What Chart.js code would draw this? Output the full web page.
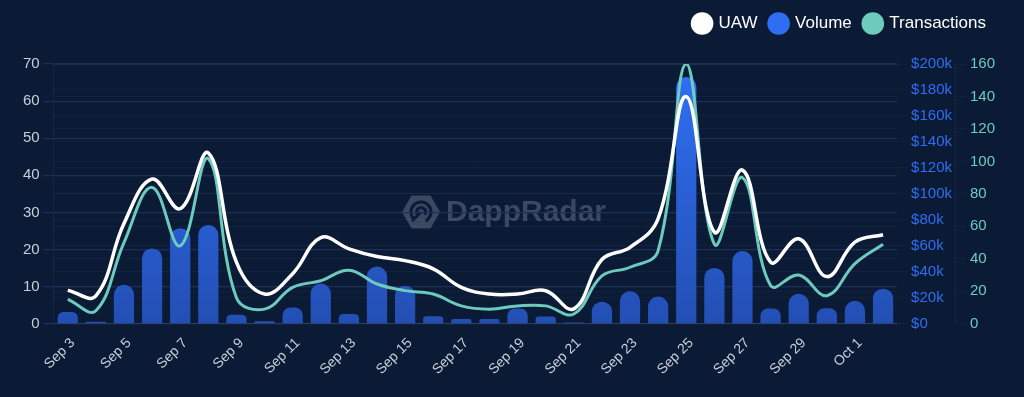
<!DOCTYPE html>
<html>
<head>
<meta charset="utf-8">
<script src="https://cdn.jsdelivr.net/npm/chart.js@4.4.1/dist/chart.umd.min.js"></script>
<style>
  html, body { margin: 0; padding: 0; background: #0b1a35; }
  #wrap { width: 1024px; height: 397px; position: relative; }
</style>
</head>
<body>
<div id="wrap"><canvas id="c" width="1024" height="397"></canvas></div>
<script>
const categories = ["Sep 3","Sep 4","Sep 5","Sep 6","Sep 7","Sep 8","Sep 9","Sep 10","Sep 11","Sep 12",
  "Sep 13","Sep 14","Sep 15","Sep 16","Sep 17","Sep 18","Sep 19","Sep 20","Sep 21","Sep 22",
  "Sep 23","Sep 24","Sep 25","Sep 26","Sep 27","Sep 28","Sep 29","Sep 30","Oct 1","Oct 2"];
const uaw = [9, 7.5, 27, 39, 31, 46, 16.6, 8, 13.5, 23.2,
  20.2, 18.1, 17, 14.8, 9.8, 8, 8, 8.9, 4, 17.3,
  20.6, 28.3, 61.2, 24.7, 41.4, 16.6, 22.9, 12.7, 22, 24];
const volume = [9000, 1500, 30000, 58000, 73600, 76000, 7000, 2000, 12600, 31000,
  7500, 44000, 29300, 5700, 3600, 3600, 11800, 5600, 1000, 17000,
  25000, 21000, 190000, 43000, 56000, 11800, 23000, 12000, 17700, 27000];
const transactions = [15, 8, 50, 84, 48, 101.7, 16, 9, 22.4, 26.5,
  33, 24.5, 20.4, 18.3, 11, 9, 11, 11, 6, 29.5,
  34.8, 45, 160, 49, 90, 23.5, 30, 17.3, 37, 49];

const BG = '#0b1a35';
const TXT = '#c9ced8';
const BLUE = '#2f6ef2';
const TEAL = '#6ccbbd';

const bgPlugin = {
  id: 'bg',
  beforeInit(chart) {
    const legend = chart.legend;
    if (legend) {
      const fit = legend.fit;
      legend.fit = function () { fit.call(this); this.height += 22; };
    }
  },
  beforeDraw(chart) {
    const ctx = chart.ctx;
    ctx.save();
    ctx.fillStyle = BG;
    ctx.fillRect(0, 0, chart.width, chart.height);
    // watermark
    const cx = 421, cy = 212, r = 19;
    ctx.fillStyle = '#3a4961';
    ctx.beginPath();
    for (let i = 0; i < 6; i++) {
      const a = Math.PI / 3 * i;
      const x = cx + r * Math.cos(a), y = cy + r * Math.sin(a);
      if (i === 0) ctx.moveTo(x, y); else ctx.lineTo(x, y);
    }
    ctx.closePath();
    ctx.fill();
    ctx.strokeStyle = BG;
    ctx.lineWidth = 3;
    ctx.beginPath(); ctx.arc(cx, cy, 10, Math.PI * 0.75, Math.PI * 2.35); ctx.stroke();
    ctx.beginPath(); ctx.arc(cx, cy, 4.5, Math.PI * 0.75, Math.PI * 2.2); ctx.stroke();
    ctx.beginPath(); ctx.moveTo(cx, cy); ctx.lineTo(cx - 9, cy + 9); ctx.stroke();
    ctx.fillStyle = '#3a4961';
    ctx.font = 'bold 30px "Liberation Sans", Arial, sans-serif';
    ctx.textBaseline = 'middle';
    ctx.fillText('DappRadar', 446, cy + 1);
    ctx.restore();
  }
};

function barGradient(ctx) {
  const chart = ctx.chart;
  const area = chart.chartArea;
  if (!area) return BLUE;
  const g = chart.ctx.createLinearGradient(0, area.top, 0, area.bottom);
  g.addColorStop(0, '#2f70f4');
  g.addColorStop(1, '#234fb4');
  return g;
}

const font = { family: '"Liberation Sans", Arial, sans-serif', size: 15 };

new Chart(document.getElementById('c'), {
  data: {
    labels: categories,
    datasets: [
      { type: 'line', label: 'UAW', data: uaw, yAxisID: 'y', borderColor: '#ffffff', backgroundColor: '#ffffff',
        borderWidth: 3.5, tension: 0.4, pointRadius: 0, order: 0 },
      { type: 'bar', label: 'Volume', data: volume, yAxisID: 'y1', backgroundColor: barGradient,
        borderRadius: { topLeft: 10, topRight: 10 }, borderSkipped: 'bottom',
        barPercentage: 0.72, categoryPercentage: 1.0, order: 2 },
      { type: 'line', label: 'Transactions', data: transactions, yAxisID: 'y2', borderColor: TEAL, backgroundColor: TEAL,
        borderWidth: 3, tension: 0.4, pointRadius: 0, order: 1 }
    ]
  },
  options: {
    responsive: false,
    animation: false,
    layout: { padding: { left: 19, right: 25, top: 2, bottom: 16 } },
    plugins: {
      legend: {
        position: 'top',
        align: 'end',
        labels: {
          color: '#ffffff',
          font: { family: '"Liberation Sans", Arial, sans-serif', size: 17 },
          usePointStyle: true,
          pointStyle: 'circle',
          boxWidth: 16,
          boxHeight: 16,
          padding: 13,
          generateLabels(chart) {
            const cols = ['#ffffff', BLUE, TEAL];
            return chart.data.datasets.map((d, i) => ({
              text: d.label, fillStyle: cols[i], strokeStyle: cols[i], lineWidth: 0,
              pointStyle: 'circle', datasetIndex: i, hidden: false, fontColor: '#ffffff'
            }));
          }
        }
      },
      tooltip: { enabled: false }
    },
    scales: {
      x: {
        grid: { display: false },
        border: { display: false },
        ticks: { color: TXT, font: { family: font.family, size: 14 }, maxRotation: 45, minRotation: 45,
          labelOffset: 5, autoSkip: false, callback(v, i) { return i % 2 === 0 ? categories[i] : null; } }
      },
      y: {
        position: 'left', min: 0, max: 70,
        grid: { color: '#1d3158', tickLength: 10, lineWidth: 1.2 },
        border: { display: true, color: '#16264a' },
        ticks: { color: TXT, font, stepSize: 10, padding: 4 }
      },
      y1: {
        position: 'right', min: 0, max: 200000,
        grid: { color: 'rgba(255,255,255,0.035)', tickLength: 10, drawOnChartArea: true },
        border: { display: false },
        ticks: { color: BLUE, font, stepSize: 20000, padding: 4,
          callback(v) { return v === 0 ? '$0' : '$' + (v / 1000) + 'k'; } }
      },
      y2: {
        position: 'right', min: 0, max: 160,
        grid: { color: 'rgba(255,255,255,0.035)', tickLength: 10, drawOnChartArea: true },
        border: { display: true, color: '#15254a' },
        ticks: { color: TEAL, font, stepSize: 20, padding: 4 }
      }
    }
  },
  plugins: [bgPlugin]
});
</script>
</body>
</html>
